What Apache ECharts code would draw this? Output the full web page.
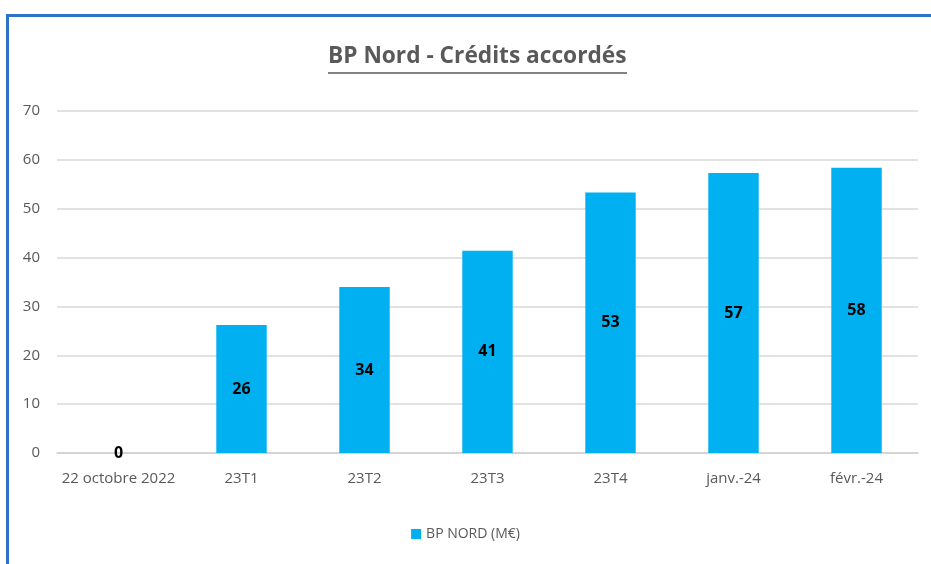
<!DOCTYPE html>
<html>
<head>
<meta charset="utf-8">
<script src="https://cdn.jsdelivr.net/npm/echarts@6/dist/echarts.min.js"></script>
<style>
  body { margin: 0; background: #fff; }
  .frame {
    position: absolute; left: 6px; top: 14px; width: 940px; height: 560px;
    border-top: 3px solid #2a73c6; border-left: 3px solid #2a73c6;
    box-sizing: border-box;
  }
  #main { position: absolute; left: 0; top: 0; width: 931px; height: 564px; }
</style>
</head>
<body>
<div class="frame"></div>
<div id="main"></div>
<script>
// données
const categories = ['22 octobre 2022', '23T1', '23T2', '23T3', '23T4', 'janv.-24', 'févr.-24'];
const values = [0, 26.2, 34.0, 41.4, 53.3, 57.3, 58.4];
const seriesName = 'BP NORD (M€)';
const yTicks = { min: 0, max: 70, interval: 10 };

const font = "'Open Sans', sans-serif";
const myChart = echarts.init(document.getElementById('main'));
myChart.setOption({
  animation: false,
  title: {
    text: 'BP Nord - Crédits accordés',
    left: 328,
    top: 45,
    padding: 0,
    textStyle: { fontFamily: font, fontSize: 22.7, fontWeight: 'bold', color: '#595959' }
  },
  graphic: [{
    type: 'line',
    shape: { x1: 328, y1: 73, x2: 627, y2: 73 },
    style: { stroke: '#595959', lineWidth: 1.5 }
  }],
  legend: {
    data: [seriesName],
    bottom: 18,
    left: 'center',
    itemWidth: 10,
    itemHeight: 10,
    icon: 'rect',
    textStyle: { fontFamily: font, fontSize: 14, color: '#595959' }
  },
  grid: { left: 57, right: 13, top: 111, bottom: 111 },
  xAxis: {
    type: 'category',
    data: categories,
    axisLine: { lineStyle: { color: '#d0d0d0', width: 1.5 } },
    axisTick: { show: false },
    axisLabel: { fontFamily: font, fontSize: 15, color: '#595959', margin: 18, interval: 0 }
  },
  yAxis: {
    type: 'value',
    min: yTicks.min,
    max: yTicks.max,
    interval: yTicks.interval,
    axisLine: { show: false },
    axisTick: { show: false },
    splitLine: { lineStyle: { color: '#d9d9d9', width: 1.5 } },
    axisLabel: { fontFamily: font, fontSize: 15, color: '#595959', margin: 17 }
  },
  series: [{
    name: seriesName,
    type: 'bar',
    data: values,
    barWidth: '41%',
    itemStyle: { color: '#00b0f0' },
    label: {
      show: true,
      position: 'inside',
      fontFamily: font,
      fontSize: 16,
      fontWeight: 'bold',
      color: '#000',
      formatter: p => Math.round(p.value)
    }
  }]
});
</script>
</body>
</html>
